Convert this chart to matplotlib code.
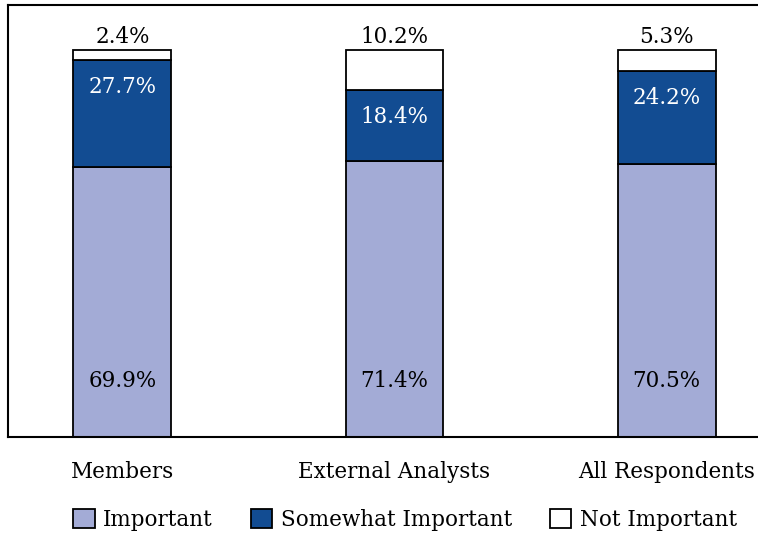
import numpy as np
import matplotlib
matplotlib.use("Agg")
import matplotlib.pyplot as plt

groups = ["Members", "External Analysts", "All Respondents"]
important = [69.9, 71.4, 70.5]
somewhat = [27.7, 18.4, 24.2]
not_important = [2.4, 10.2, 5.3]
series_names = ["Important", "Somewhat Important", "Not Important"]

plt.rcParams["font.family"] = ["DejaVu Serif"]

c_light = "#a3abd6"
c_dark = "#124c92"

fig = plt.figure(figsize=(7.58, 5.39), dpi=100)
# axes runs past the right edge of the picture, as in the reference
ax = fig.add_axes([8 / 758, 1 - 437 / 539, 773 / 758, 432 / 539])

x = np.arange(len(groups))
w = 0.36
imp = np.array(important)
som = np.array(somewhat)
nim = np.array(not_important)

b1 = ax.bar(x, imp, w, color=c_light, edgecolor="black", lw=1.3, label=series_names[0])
b2 = ax.bar(x, som, w, bottom=imp, color=c_dark, edgecolor="black", lw=1.3, label=series_names[1])
b3 = ax.bar(x, nim, w, bottom=imp + som, color="white", edgecolor="black", lw=1.3, label=series_names[2])

fs = 15.5
for i in range(len(groups)):
    ax.text(x[i], 14.5, f"{imp[i]:.1f}%", ha="center", va="center", fontsize=fs, color="black")
    ax.text(x[i], imp[i] + som[i] - 7, f"{som[i]:.1f}%", ha="center", va="center", fontsize=fs, color="white")
    ax.text(x[i], 100.5, f"{nim[i]:.1f}%", ha="center", va="bottom", fontsize=fs, color="black")

ax.set_xlim(-0.42, 2.42)
ax.set_ylim(0, 111.7)
ax.set_yticks([])
ax.set_xticks(x)
ax.set_xticklabels(groups, fontsize=fs)
ax.tick_params(axis="x", length=0, pad=17)
for s in ax.spines.values():
    s.set_linewidth(1.5)

fig.legend(handles=[b1, b2, b3], loc="center", bbox_to_anchor=(405 / 758, 1 - 520 / 539),
           ncol=3, frameon=False, fontsize=fs, handlelength=1.0, handleheight=1.0,
           handletextpad=0.4, columnspacing=1.75)

fig.savefig("out.png", dpi=100)
